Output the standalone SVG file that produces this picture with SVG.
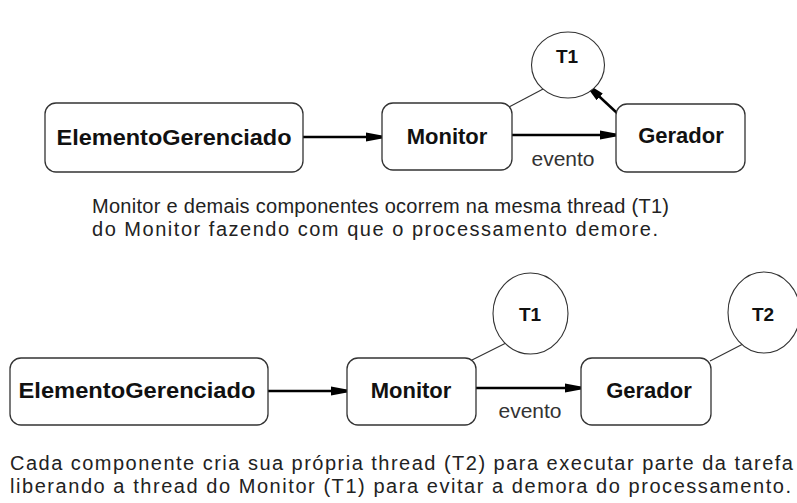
<svg xmlns="http://www.w3.org/2000/svg" width="797" height="503" viewBox="0 0 797 503">
<defs>
<style>
.box{fill:#fff;stroke:#333;stroke-width:1.3}
.th{fill:#fff;stroke:#333;stroke-width:1.1}
.lbl{font-family:"Liberation Sans",Arial,sans-serif;font-weight:bold;font-size:22px;fill:#111;text-anchor:middle}
.tl{font-family:"Liberation Sans",Arial,sans-serif;font-weight:bold;font-size:19px;fill:#111;text-anchor:middle}
.ev{font-family:"Liberation Sans",Arial,sans-serif;font-size:21px;fill:#333;text-anchor:middle}
.cap{font-family:"Liberation Sans",Arial,sans-serif;font-size:20px;fill:#222}
.arr{stroke:#000;stroke-width:2.5;fill:none}
.thin{stroke:#333;stroke-width:1.1;fill:none}
</style>
<marker id="ah" markerUnits="userSpaceOnUse" markerWidth="20" markerHeight="14" refX="16" refY="7" orient="auto">
<path d="M0,2.5 L16,5.5 L16,8.5 L0,11.5 z" fill="#000"/>
</marker>
</defs>

<g id="connectors">
<line class="arr" x1="303" y1="137" x2="382" y2="137" marker-end="url(#ah)"/>
<line class="arr" x1="512" y1="135" x2="616" y2="135" marker-end="url(#ah)"/>
<line class="arr" x1="617" y1="113" x2="588" y2="86" marker-end="url(#ah)"/>
<line class="thin" x1="509" y1="107" x2="545" y2="88"/>
<line class="arr" x1="268" y1="391" x2="347" y2="391" marker-end="url(#ah)"/>
<line class="arr" x1="476" y1="388" x2="581" y2="388" marker-end="url(#ah)"/>
<line class="thin" x1="472" y1="360" x2="506" y2="343"/>
<line class="thin" x1="710" y1="361" x2="743" y2="344"/>
<text class="ev" x="563" y="166">evento</text>
<text class="ev" x="530" y="418">evento</text>
</g>

<g id="top-elemento">
<rect class="box" x="45" y="103" width="258" height="69" rx="11"/>
<text class="lbl" x="174" y="145" textLength="235" lengthAdjust="spacingAndGlyphs">ElementoGerenciado</text>
</g>
<g id="top-monitor">
<rect class="box" x="382" y="103" width="130" height="67" rx="11"/>
<text class="lbl" x="447" y="144">Monitor</text>
</g>
<g id="top-gerador">
<rect class="box" x="616" y="104" width="129" height="68" rx="11"/>
<text class="lbl" x="681" y="143">Gerador</text>
</g>
<g id="top-t1">
<ellipse class="th" cx="568" cy="65" rx="36.5" ry="33"/>
<text class="tl" x="567" y="63">T1</text>
</g>

<g id="caption-1">
<text class="cap" x="92" y="213" textLength="577" lengthAdjust="spacing">Monitor e demais componentes ocorrem na mesma thread (T1)</text>
<text class="cap" x="92" y="236" textLength="566" lengthAdjust="spacing">do Monitor fazendo com que o processamento demore.</text>
</g>

<g id="bot-elemento">
<rect class="box" x="10" y="358" width="258" height="67" rx="11"/>
<text class="lbl" x="137" y="398" textLength="237" lengthAdjust="spacingAndGlyphs">ElementoGerenciado</text>
</g>
<g id="bot-monitor">
<rect class="box" x="347" y="358" width="129" height="67" rx="11"/>
<text class="lbl" x="411" y="398">Monitor</text>
</g>
<g id="bot-gerador">
<rect class="box" x="581" y="358" width="130" height="67" rx="11"/>
<text class="lbl" x="649" y="398">Gerador</text>
</g>
<g id="bot-t1">
<ellipse class="th" cx="530.5" cy="313.5" rx="37.5" ry="40.5"/>
<text class="tl" x="530" y="321">T1</text>
</g>
<g id="bot-t2">
<ellipse class="th" cx="764" cy="312.5" rx="36" ry="40.5"/>
<text class="tl" x="763" y="321">T2</text>
</g>

<g id="caption-2">
<text class="cap" x="10" y="470" textLength="783" lengthAdjust="spacing">Cada componente cria sua própria thread (T2) para executar parte da tarefa</text>
<text class="cap" x="10" y="493" textLength="781" lengthAdjust="spacing">liberando a thread do Monitor  (T1) para evitar a demora do processamento.</text>
</g>
</svg>
